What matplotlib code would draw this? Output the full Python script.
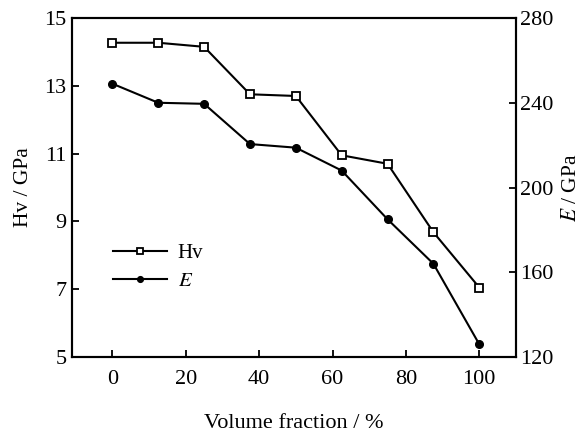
import matplotlib
matplotlib.use("Agg")
import matplotlib.pyplot as plt

plt.rcParams['font.family'] = ['Liberation Serif', 'DejaVu Serif']
plt.rcParams['mathtext.fontset'] = 'stix'

volume_fraction = [0, 12.5, 25, 37.5, 50, 62.5, 75, 87.5, 100]
hv_values = [14.27, 14.27, 14.15, 12.75, 12.7, 10.95, 10.7, 8.68, 7.05]
e_values = [249, 240, 239.5, 220.5, 218.8, 208, 185, 164, 126]

x_ticks = [0, 20, 40, 60, 80, 100]
hv_ticks = [5, 7, 9, 11, 13, 15]
e_ticks = [120, 160, 200, 240, 280]

fig = plt.figure(figsize=(5.87, 4.34), dpi=100)
ax = fig.add_axes([0.1227, 0.1774, 0.7563, 0.7811])
ax2 = ax.twinx()

l1, = ax.plot(volume_fraction, hv_values, color='black', lw=1.5, marker='s',
              markersize=5.5, markerfacecolor='white', markeredgecolor='black',
              markeredgewidth=1.3)
l2, = ax2.plot(volume_fraction, e_values, color='black', lw=1.5, marker='o',
               markersize=5.5, markerfacecolor='black', markeredgecolor='black')

ax.set_xlim(-11, 110)
ax.set_ylim(5, 15)
ax2.set_ylim(120, 280)
ax.set_xticks(x_ticks)
ax.set_yticks(hv_ticks)
ax2.set_yticks(e_ticks)

for a in (ax, ax2):
    for s in a.spines.values():
        s.set_linewidth(1.5)
    a.tick_params(direction='in', length=5, width=1.3, labelsize=16)
ax.tick_params(axis='x', pad=9)
ax.tick_params(axis='y', pad=4)
ax2.tick_params(axis='y', pad=3)

ax.set_xlabel('Volume fraction / %', fontsize=16, labelpad=18)
ax.set_ylabel('Hv / GPa', fontsize=15.5, labelpad=8)
ax2.set_ylabel(r'$E$ / GPa', fontsize=15.5, labelpad=6, rotation=90)

leg = ax.legend([l1, l2], ['Hv', r'$E$'], loc='upper left',
                bbox_to_anchor=(0.05, 0.39), frameon=False, fontsize=15,
                handlelength=2.6, handletextpad=0.5, labelspacing=0.4,
                markerscale=0.75)

fig.savefig('out.png', dpi=100)
